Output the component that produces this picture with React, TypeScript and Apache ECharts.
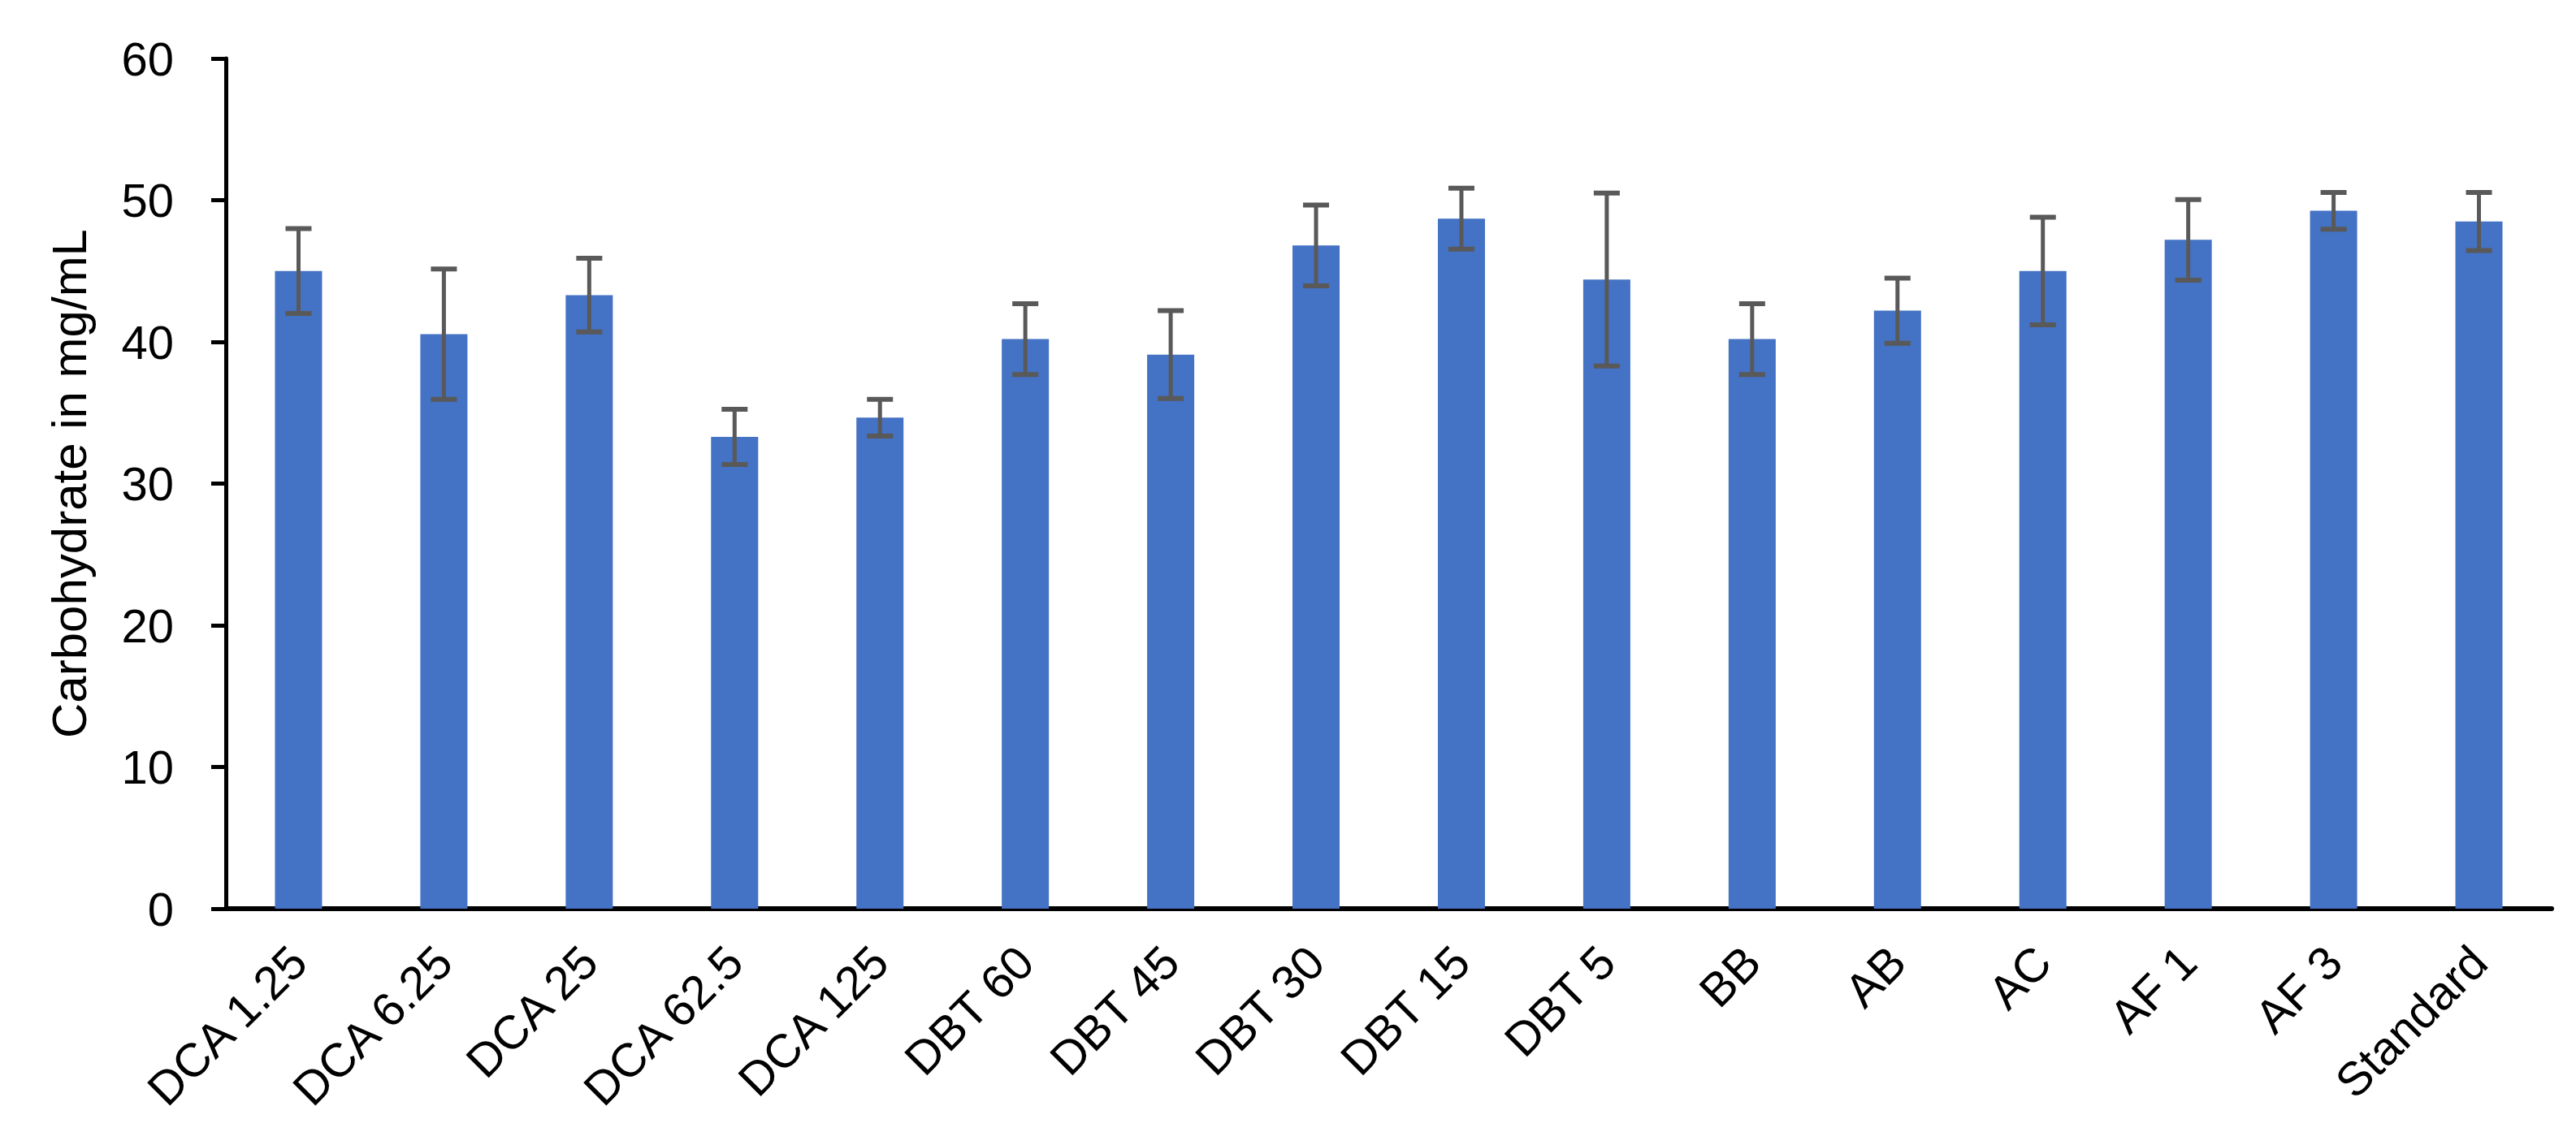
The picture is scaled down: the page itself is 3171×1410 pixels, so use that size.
import React, { useEffect, useRef } from "react";
import * as echarts from "echarts";

const categories = [
  "DCA 1.25", "DCA 6.25", "DCA 25", "DCA 62.5", "DCA 125",
  "DBT 60", "DBT 45", "DBT 30", "DBT 15", "DBT 5",
  "BB", "AB", "AC", "AF 1", "AF 3", "Standard",
];
const means = [45.0, 40.55, 43.3, 33.3, 34.65, 40.2, 39.1, 46.8, 48.7, 44.4, 40.2, 42.2, 45.0, 47.2, 49.25, 48.5];
const errors = [3.0, 4.6, 2.6, 1.95, 1.3, 2.5, 3.1, 2.85, 2.15, 6.1, 2.5, 2.3, 3.8, 2.85, 1.3, 2.05];
const yTicks = [0, 10, 20, 30, 40, 50, 60];
const yTitle = "Carbohydrate in mg/mL";

const FONT = "Liberation Sans";

export default function App() {
  const ref = useRef<HTMLDivElement>(null);
  useEffect(() => {
    if (!ref.current) return;
    const chart = echarts.init(ref.current, undefined, { renderer: "svg" });
    const errData = means.map((m, i) => [i, m - errors[i], m + errors[i]]);
    chart.setOption({
      animation: false,
      backgroundColor: "#ffffff",
      grid: { left: 278, right: 30, top: 72, bottom: 291, containLabel: false },
      xAxis: {
        type: "category",
        data: categories,
        axisLine: { show: true, lineStyle: { color: "#000000", width: 6 } },
        axisTick: { show: false },
        axisLabel: {
          rotate: 45,
          interval: 0,
          margin: 56,
          fontFamily: FONT,
          fontSize: 58,
          color: "#000000",
        },
      },
      yAxis: {
        type: "value",
        min: yTicks[0],
        max: yTicks[yTicks.length - 1],
        interval: 10,
        name: yTitle,
        nameLocation: "middle",
        nameGap: 163,
        nameRotate: 90,
        nameTextStyle: { fontFamily: FONT, fontSize: 60, color: "#000000" },
        axisLine: { show: true, lineStyle: { color: "#000000", width: 5 } },
        axisTick: { show: true, length: 18, lineStyle: { color: "#000000", width: 5 } },
        axisLabel: {
          margin: 64,
          fontFamily: FONT,
          fontSize: 58,
          color: "#000000",
        },
        splitLine: { show: false },
      },
      series: [
        {
          type: "bar",
          data: means,
          barWidth: 58,
          itemStyle: { color: "#4472C4" },
        },
        {
          type: "custom",
          data: errData,
          z: 10,
          renderItem: (params: any, api: any) => {
            const x = api.value(0);
            const lo = api.coord([x, api.value(1)]);
            const hi = api.coord([x, api.value(2)]);
            const half = 16;
            const style = { stroke: "#595959", lineWidth: 5 };
            return {
              type: "group",
              children: [
                { type: "line", shape: { x1: lo[0], y1: lo[1], x2: hi[0], y2: hi[1] }, style },
                { type: "line", shape: { x1: lo[0] - half, y1: lo[1], x2: lo[0] + half, y2: lo[1] }, style: { stroke: "#595959", lineWidth: 6 } },
                { type: "line", shape: { x1: hi[0] - half, y1: hi[1], x2: hi[0] + half, y2: hi[1] }, style: { stroke: "#595959", lineWidth: 6 } },
              ],
            };
          },
        },
      ],
    });
    return () => chart.dispose();
  }, []);
  return (
    <div
      ref={ref}
      style={{ position: "fixed", left: 0, top: 0, width: 3171, height: 1410, background: "#fff" }}
    />
  );
}
